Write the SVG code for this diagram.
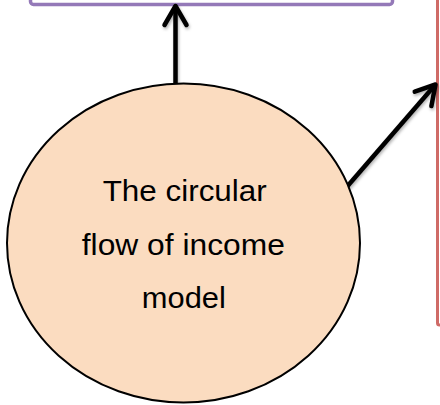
<svg xmlns="http://www.w3.org/2000/svg" width="440" height="405" viewBox="0 0 440 405">
  <style>
    .conn { fill: none; stroke: #000; stroke-width: 4.5; stroke-linecap: butt; }
    .lbl { font-family: "Liberation Sans", Arial, sans-serif; font-size: 29px; fill: #000; text-anchor: middle; }
  </style>
  <defs>
    <filter id="sh" x="-20%" y="-20%" width="140%" height="140%">
      <feDropShadow dx="1" dy="2" stdDeviation="1.5" flood-color="#000" flood-opacity="0.3"/>
    </filter>
    <marker id="arr" markerUnits="userSpaceOnUse" markerWidth="40" markerHeight="40" viewBox="-30 -20 40 40" refX="0" refY="0" orient="auto" overflow="visible">
      <path d="M -19 -11 L 0 0 L -19 11" fill="none" stroke="#000" stroke-width="4.5" stroke-linecap="round" stroke-linejoin="round"/>
    </marker>
  </defs>
  <rect width="440" height="405" fill="#fff"/>
  <g id="box-top">
    <rect x="30.5" y="-60" width="362" height="64.5" rx="3" fill="#fff" stroke="#9479b8" stroke-width="3.5"/>
  </g>
  <g id="box-right">
    <rect x="437.5" y="-20" width="40" height="345" rx="2" fill="#fff" stroke="#cf6b67" stroke-width="3"/>
  </g>
  <g id="connectors" filter="url(#sh)">
    <path class="conn" d="M 175.5 83 L 175.5 6" marker-end="url(#arr)"/>
    <path class="conn" d="M 345 189 L 435.5 84.5" marker-end="url(#arr)"/>
  </g>
  <g id="circle-node">
    <ellipse cx="183.5" cy="243" rx="176.5" ry="159.5" fill="#fbdcc0" stroke="#000" stroke-width="2"/>
    <text class="lbl" x="184.7" y="200.5" textLength="164" lengthAdjust="spacingAndGlyphs">The circular</text>
    <text class="lbl" x="183.3" y="254.5" textLength="203" lengthAdjust="spacingAndGlyphs">flow of income</text>
    <text class="lbl" x="183.8" y="307.5" textLength="84" lengthAdjust="spacingAndGlyphs">model</text>
  </g>
</svg>
